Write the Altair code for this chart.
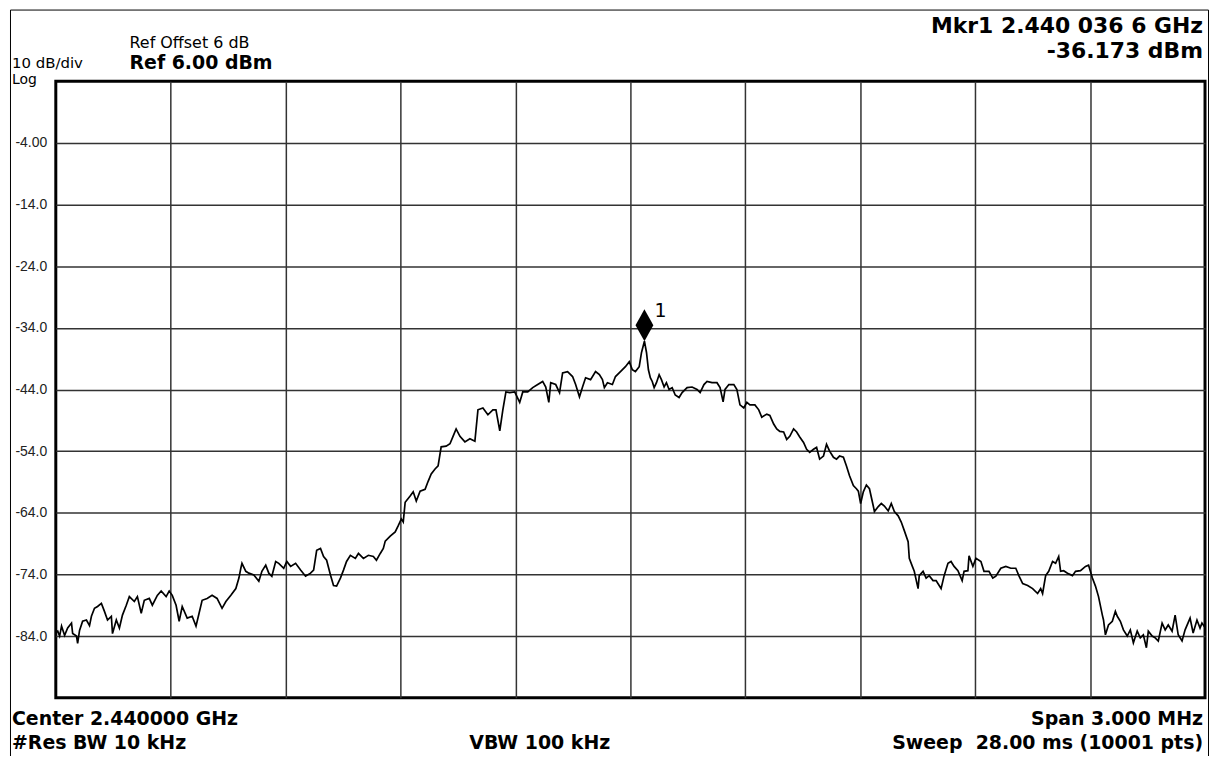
import altair as alt
import pandas as pd

# Trace: frequency offset from centre (kHz) and level (dBm)
offset_khz = [
    -1500, -1495, -1490, -1485, -1477, -1469, -1459, -1456, -1446, -1443, -1438, -1430, -1420, -1412,
    -1407, -1399, -1391, -1381, -1373, -1365, -1355, -1352, -1342, -1334, -1326, -1316, -1308, -1295,
    -1287, -1277, -1269, -1256, -1248, -1235, -1225, -1212, -1204, -1196, -1186, -1178, -1170, -1157,
    -1144, -1134, -1126, -1118, -1105, -1092, -1079, -1066, -1056, -1043, -1030, -1022, -1017, -1014,
    -1004, -996, -983, -970, -962, -952, -944, -936, -926, -918, -905, -897, -887, -874, -861, -848,
    -835, -827, -819, -809, -801, -793, -783, -775, -767, -757, -749, -741, -731, -718, -710, -697,
    -684, -671, -663, -653, -645, -640, -627, -614, -606, -598, -593, -588, -575, -567, -559, -549,
    -536, -528, -520, -510, -502, -494, -481, -471, -463, -455, -445, -432, -419, -406, -398, -385,
    -372, -359, -351, -341, -333, -325, -315, -302, -289, -281, -268, -255, -242, -229, -221, -213,
    -208, -195, -185, -177, -164, -151, -143, -133, -125, -117, -104, -91, -81, -73, -68, -60,
    -47, -39, -26, -13, -3, 5, 13, 23, 29, 36.6, 42, 47, 52, 57, 62, 68, 75, 81, 88, 94, 101, 109,
    117, 127, 135, 148, 161, 174, 182, 192, 200, 213, 226, 234, 242, 247, 257, 270, 278, 286, 296,
    304, 312, 325, 335, 343, 356, 364, 374, 382, 390, 400, 408, 416, 426, 434, 442, 452, 460, 468,
    478, 486, 494, 504, 512, 520, 530, 538, 546, 556, 564, 572, 582, 590, 595, 601, 608, 616, 624,
    634, 637, 647, 655, 663, 673, 681, 689, 699, 707, 715, 725, 728, 736, 741, 751, 754, 764, 772,
    780, 790, 798, 806, 811, 819, 829, 837, 845, 855, 866, 871, 881, 884, 894, 902, 915, 923, 936,
    946, 954, 967, 980, 993, 1006, 1014, 1024, 1037, 1050, 1063, 1071, 1076, 1084, 1092, 1102, 1110,
    1118, 1123, 1131, 1141, 1154, 1162, 1175, 1188, 1196, 1206, 1214, 1222, 1232, 1235, 1240, 1248,
    1258, 1266, 1271, 1279, 1287, 1297, 1305, 1313, 1323, 1331, 1339, 1347, 1352, 1362, 1370, 1378,
    1388, 1396, 1404, 1414, 1422, 1430, 1440, 1448, 1461, 1469, 1479, 1487, 1492, 1500,
]
level_dbm = [
    -83.4, -83.2, -84.0, -82.4, -83.9, -82.7, -81.9, -83.6, -84.0, -85.2, -83.1, -81.6, -81.4, -82.3,
    -80.8, -79.5, -79.2, -78.7, -80.0, -81.4, -80.8, -83.6, -81.4, -82.7, -80.6, -79.0, -77.6, -78.4,
    -77.6, -80.3, -78.2, -77.9, -79.0, -77.4, -76.7, -77.6, -76.7, -77.4, -79.0, -81.6, -79.2, -81.1,
    -80.8, -82.4, -80.3, -78.2, -77.9, -77.4, -77.9, -79.5, -78.4, -77.4, -76.3, -74.6, -73.0, -72.2,
    -73.5, -73.8, -74.1, -75.1, -73.5, -72.5, -73.8, -74.3, -71.9, -72.2, -73.0, -71.9, -72.7, -72.2, -73.3, -74.3,
    -73.8, -73.3, -70.1, -69.8, -71.1, -71.7, -74.1, -75.8, -75.9, -74.6, -73.3, -71.9, -70.9, -71.4, -70.6, -71.4,
    -70.9, -71.1, -71.7, -70.6, -69.8, -68.6, -67.8, -67.1, -66.1, -65.0, -65.5, -62.3, -61.3, -60.6, -62.1, -60.5,
    -60.2, -58.9, -57.7, -56.9, -56.4, -53.3, -53.2, -52.8, -51.6, -50.4, -51.6, -52.5, -52.0, -52.4, -47.3, -47.0,
    -48.1, -47.3, -47.3, -50.7, -47.3, -44.4, -44.5, -44.4, -46.1, -44.4, -44.4, -43.7, -43.2, -42.7, -43.6, -46.1,
    -42.9, -43.2, -44.5, -41.3, -41.1, -41.9, -43.2, -45.2, -43.6, -42.1, -42.4, -41.1, -41.6, -42.4, -43.7, -42.9,
    -43.2, -41.9, -41.1, -40.3, -39.5, -40.8, -41.1, -40.3, -38.0, -36.173, -38.0, -40.8, -42.1, -42.7, -43.7, -42.9, -41.6, -42.4, -43.6, -42.9, -44.0, -43.7,
    -44.9, -45.3, -44.5, -43.7, -43.6, -44.0, -44.5, -43.2, -42.7, -42.9, -42.9, -43.7, -46.0, -44.0, -43.2, -43.2, -44.0, -46.5, -47.0,
    -46.1, -46.5, -46.5, -47.3, -48.5, -48.0, -48.2, -49.6, -50.4, -50.8, -50.9, -52.1, -51.6, -50.4, -50.9, -51.7, -52.6, -53.7, -54.2,
    -53.7, -53.4, -55.3, -54.8, -52.9, -54.0, -55.0, -55.3, -54.8, -55.0, -56.4, -58.0, -59.6, -60.1, -60.5, -62.5, -60.6, -59.5, -60.1,
    -62.9, -63.8, -63.0, -62.5, -62.9, -63.7, -62.5, -63.8, -64.5, -65.5, -66.9, -68.7, -71.4, -72.7, -73.5, -76.3, -74.2, -73.5, -74.6,
    -74.2, -75.0, -75.0, -75.8, -76.3, -74.2, -72.2, -71.9, -72.7, -73.4, -75.0, -73.5, -73.4, -71.0, -72.7, -71.4, -71.9, -73.5, -73.5,
    -74.6, -74.3, -73.0, -72.7, -73.0, -73.0, -74.2, -75.5, -75.8, -76.3, -77.1, -76.3, -77.1, -74.2, -73.5, -71.9, -72.2,
    -71.1, -73.5, -73.4, -73.8, -74.2, -73.5, -73.4, -72.7, -72.5, -74.6, -75.9, -77.6, -80.6, -81.4, -83.8, -82.2,
    -81.6, -80.0, -80.8, -81.6, -83.0, -84.0, -83.0, -85.1, -83.2, -84.3, -83.8, -85.9, -83.2, -84.0, -84.3, -84.8,
    -81.9, -83.0, -82.2, -83.2, -80.6, -83.8, -84.8, -83.0, -81.1, -83.5, -81.4, -82.7, -81.9, -82.6,
]

# Marker 1
marker_khz = [36.6]
marker_dbm = [-36.173]
marker_label = ["1"]

# Axis settings
x_domain = [-1500, 1500]
y_domain = [-94, 6]
x_grid = [-1200, -900, -600, -300, 0, 300, 600, 900, 1200]
y_ticks = [-84, -74, -64, -54, -44, -34, -24, -14, -4]

# Annotation texts
txt_mkr = "Mkr1 2.440 036 6 GHz"
txt_mkr_val = "-36.173 dBm"
txt_ref_off = "Ref Offset 6 dB"
txt_ref = "Ref 6.00 dBm"
txt_div = "10 dB/div"
txt_log = "Log"
txt_center = "Center 2.440000 GHz"
txt_rbw = "#Res BW 10 kHz"
txt_vbw = "VBW 100 kHz"
txt_span = "Span 3.000 MHz"
txt_sweep = "Sweep \u00a028.00 ms (10001 pts)"

trace = pd.DataFrame({"offset": offset_khz, "level": level_dbm})
marker = pd.DataFrame({"offset": marker_khz, "level": marker_dbm, "label": marker_label})

xs = alt.Scale(domain=x_domain, nice=False, zero=False)
ys = alt.Scale(domain=y_domain, nice=False, zero=False)

x_axis = alt.Axis(values=x_grid, labels=False, ticks=False, domain=False, grid=True, title=None)
y_axis = alt.Axis(values=y_ticks, ticks=False, tickSize=0, domain=False, grid=True, title=None,
                  labelAlign="left", labelPadding=41, labelBaseline="middle",
                  labelExpr="'-' + format(abs(datum.value), '.3r')",
                  labelFont="Liberation Sans", labelFontSize=14, labelColor="#222222")

line = alt.Chart(trace).mark_line(color="black", strokeWidth=1.7, clip=True).encode(
    x=alt.X("offset:Q", scale=xs, axis=x_axis),
    y=alt.Y("level:Q", scale=ys, axis=y_axis),
)

diamond = alt.Chart(marker).mark_point(
    shape="M0,-1L0.56,0L0,1L-0.56,0Z", size=1024, filled=True, color="black", opacity=1, yOffset=-16
).encode(x=alt.X("offset:Q", scale=xs), y=alt.Y("level:Q", scale=ys))

mlabel = alt.Chart(marker).mark_text(
    align="left", baseline="alphabetic", dx=10, dy=-24, font="DejaVu Sans", fontSize=19, color="black"
).encode(x=alt.X("offset:Q", scale=xs), y=alt.Y("level:Q", scale=ys), text="label:N")


def note(text, x, y, size, weight="normal", align="left"):
    return alt.Chart(pd.DataFrame({"t": [text]})).mark_text(
        align=align, baseline="alphabetic", font="DejaVu Sans", fontSize=size,
        fontWeight=weight, color="black"
    ).encode(x=alt.value(x), y=alt.value(y), text="t:N")


border = alt.Chart(pd.DataFrame({"a": [0]})).mark_rect(
    filled=False, stroke="black", strokeWidth=1
).encode(x=alt.value(-45.5), x2=alt.value(1157.5), y=alt.value(-71.5), y2=alt.value(700))

notes = [
    note(txt_mkr, 1152, -48, 22, "bold", "right"),
    note(txt_mkr_val, 1152, -23, 22, "bold", "right"),
    note(txt_ref_off, 74, -33, 16),
    note(txt_ref, 74, -12, 19, "bold"),
    note(txt_div, -44, -13, 15),
    note(txt_log, -44, 3, 14),
    note(txt_center, -44, 646, 19, "bold"),
    note(txt_rbw, -44, 671, 19, "bold"),
    note(txt_vbw, 486, 671, 19, "bold", "center"),
    note(txt_span, 1152, 646, 19, "bold", "right"),
    note(txt_sweep, 1152, 671, 19, "bold", "right"),
]

chart = alt.layer(border, line, diamond, mlabel, *notes).properties(
    width=1154, height=619,
    padding={"left": 48, "top": 72, "right": 4, "bottom": 57},
    autosize=alt.AutoSizeParams(type="none"),
    background="white",
).configure_view(
    stroke="black", strokeWidth=3
).configure_axis(
    gridColor="#333333", gridWidth=1.5, gridOpacity=1
)

chart.save("out.html", embed_options={"renderer": "svg", "actions": False})
